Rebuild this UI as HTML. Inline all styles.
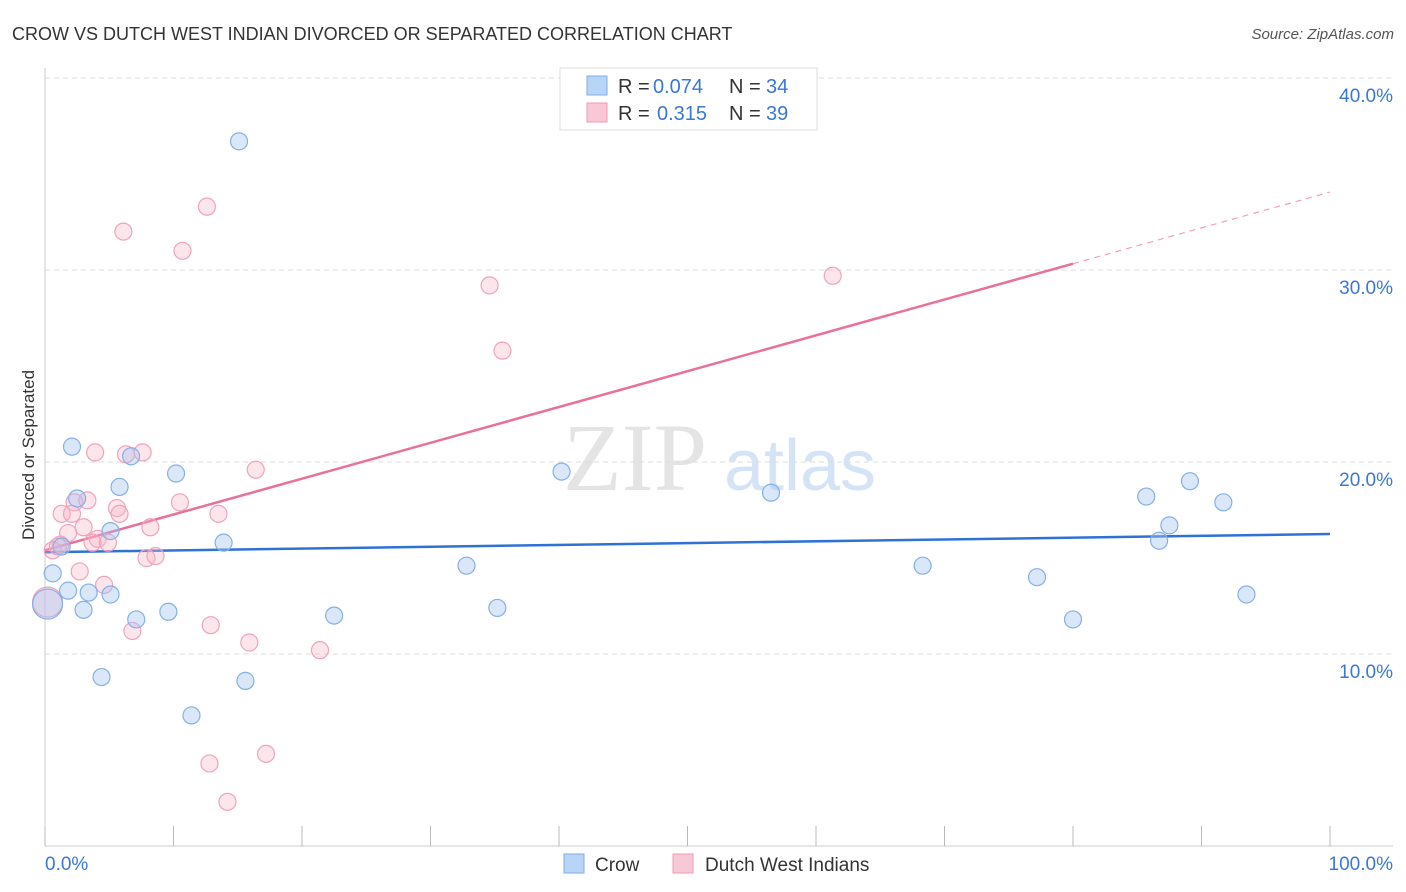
<!DOCTYPE html>
<html><head><meta charset="utf-8"><style>
body{margin:0;background:#fff;font-family:"Liberation Sans",sans-serif;}
svg{display:block}
</style></head><body>
<svg id="chart" width="1406" height="892" xmlns="http://www.w3.org/2000/svg">
<text x="12" y="40" font-size="18" fill="#333">CROW VS DUTCH WEST INDIAN DIVORCED OR SEPARATED CORRELATION CHART</text>
<text x="1394" y="39" font-size="15" fill="#555" font-style="italic" text-anchor="end">Source: ZipAtlas.com</text>
<text x="34" y="455" font-size="17" fill="#333" transform="rotate(-90 34 455)" text-anchor="middle">Divorced or Separated</text>
<g><text x="635" y="490" font-size="96" fill="#e4e4e4" font-family="Liberation Serif,serif" text-anchor="middle">ZIP</text><text x="800" y="490" font-size="72" fill="#d4e4f6" text-anchor="middle">atlas</text></g>
<g id="grid"></g><g id="axes"></g><g id="lines"></g><g id="pts"></g>
<g>
<rect x="560" y="68" width="257" height="62" fill="#fff" stroke="#ddd"/>
<rect x="587" y="76" width="20" height="19" fill="#b8d4f6" stroke="#7eaee8"/>
<rect x="587" y="103" width="20" height="19" fill="#f9c8d6" stroke="#f09ab4"/>
<text x="618" y="93" font-size="20" fill="#333">R =</text>
<text x="653" y="93" font-size="20" fill="#3a78d4">0.074</text>
<text x="729" y="93" font-size="20" fill="#333">N =</text>
<text x="766" y="93" font-size="20" fill="#3a78d4">34</text>
<text x="618" y="120" font-size="20" fill="#333">R =</text>
<text x="657" y="120" font-size="20" fill="#3a78d4">0.315</text>
<text x="729" y="120" font-size="20" fill="#333">N =</text>
<text x="766" y="120" font-size="20" fill="#3a78d4">39</text>
</g>
<g>
<rect x="564" y="854" width="20" height="19" fill="#b8d4f6" stroke="#7eaee8"/>
<text x="595" y="871" font-size="19" fill="#333">Crow</text>
<rect x="673" y="854" width="20" height="19" fill="#f9c8d6" stroke="#f09ab4"/>
<text x="705" y="871" font-size="19" fill="#333">Dutch West Indians</text>
</g>
</svg>
<script>
const yTicks=[10,20,30,40];
const yTickLabels=["10.0%","20.0%","30.0%","40.0%"];
const crowX=[15.1,2.1,6.7,10.2,5.8,2.5,5.1,13.9,1.3,0.6,1.8,3.4,5.1,3.0,7.1,9.6,22.5,4.4,15.6,11.4,32.8,35.2,40.2,56.5,68.3,77.2,80.0,85.7,87.5,86.7,89.1,91.7,93.5,0.2];
const crowY=[36.7,20.8,20.3,19.4,18.7,18.1,16.4,15.8,15.6,14.2,13.3,13.2,13.1,12.3,11.8,12.2,12.0,8.8,8.6,6.8,14.6,12.4,19.5,18.4,14.6,14.0,11.8,18.2,16.7,15.9,19.0,17.9,13.1,12.6];
const dutchX=[12.6,6.1,10.7,34.6,61.3,35.6,3.9,6.3,7.6,16.4,2.3,3.3,10.5,13.5,1.3,2.1,5.6,5.8,3.0,8.2,1.8,4.1,3.7,4.9,1.2,0.6,7.9,8.6,2.7,4.6,12.9,6.8,15.9,21.4,12.8,17.2,14.2,0.2,1.0];
const dutchY=[33.3,32.0,31.0,29.2,29.7,25.8,20.5,20.4,20.5,19.6,17.9,18.0,17.9,17.3,17.3,17.3,17.6,17.3,16.6,16.6,16.3,16.0,15.8,15.8,15.7,15.4,15.0,15.1,14.3,13.6,11.5,11.2,10.6,10.2,4.3,4.8,2.3,12.7,15.6];
const crowTrend=[15.3,16.25];
const dutchTrend=[15.4,34.06];
const X0=45,X1=1330,Y0=846,PPY=19.2;
const sx=v=>X0+(X1-X0)*v/100, sy=v=>Y0-v*PPY;
const NS="http://www.w3.org/2000/svg";
function mk(t,a,p){const e=document.createElementNS(NS,t);for(const k in a)e.setAttribute(k,a[k]);p.appendChild(e);return e;}
const grid=document.getElementById('grid'),axes=document.getElementById('axes'),lines=document.getElementById('lines'),pts=document.getElementById('pts');
yTicks.forEach((v,i)=>{
 const l=mk('line',{x1:X0,x2:1393,y1:sy(v),y2:sy(v),stroke:'#ddd','stroke-dasharray':'5,4'},grid);
 
 
 const t=mk('text',{x:1393,y:sy(v)+24,'font-size':19,fill:'#3a78d4','text-anchor':'end'},grid);
 t.textContent=yTickLabels[i];
 
 
});
mk('line',{x1:X0,x2:1393,y1:Y0,y2:Y0,stroke:'#ccc'},axes);
mk('line',{x1:X0,x2:X0,y1:68,y2:Y0,stroke:'#ccc'},axes);
for(let i=0;i<=10;i++){const tk=mk('line',{x1:sx(i*10),x2:sx(i*10),y1:826,y2:Y0,stroke:'#bbb'},axes);
 
 }
const xl0=mk('text',{x:45,y:870,'font-size':19,fill:'#3a78d4'},axes);xl0.textContent='0.0%';


const xl1=mk('text',{x:1393,y:870,'font-size':19,fill:'#3a78d4','text-anchor':'end'},axes);xl1.textContent='100.0%';


function dot(x,y,big,c,s,name){const r=big?15:8.5;const e=mk('circle',{cx:sx(x),cy:sy(y),r:r,fill:c,stroke:s,'stroke-width':1.2},pts);
 
 }
dutchX.forEach((x,i)=>dot(x,dutchY[i],i===dutchX.length-2,'rgba(248,180,200,0.35)','#f0a3bb','dutch-point'));
crowX.forEach((x,i)=>dot(x,crowY[i],i===crowX.length-1,'rgba(160,196,240,0.4)','#86b0e6','crow-point'));
const bl=mk('line',{x1:sx(0),y1:sy(crowTrend[0]),x2:sx(100),y2:sy(crowTrend[1]),stroke:'#2f72d6','stroke-width':2.5},lines);


const pm=v=>dutchTrend[0]+(dutchTrend[1]-dutchTrend[0])*v/100;
const pl=mk('line',{x1:sx(0),y1:sy(pm(0)),x2:sx(80),y2:sy(pm(80)),stroke:'#e8709a','stroke-width':2.5},lines);


const pd=mk('line',{x1:sx(80),y1:sy(pm(80)),x2:sx(100),y2:sy(pm(100)),stroke:'#f0a0bb','stroke-width':1.2,'stroke-dasharray':'6,5'},lines);


</script>
</body></html>
